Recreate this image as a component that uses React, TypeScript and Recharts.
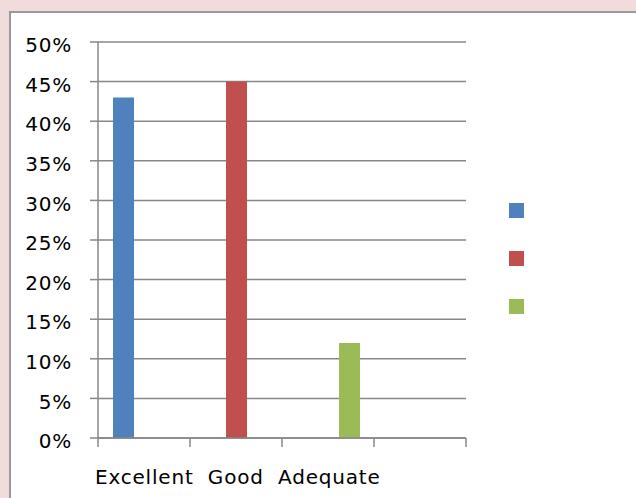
import { BarChart, Bar, XAxis, YAxis, CartesianGrid } from 'recharts';

const categories = ['c1', 'c2', 'c3', 'c4'];
const excellent = [43, null, null, null];
const good = [null, 45, null, null];
const adequate = [null, null, 12, null];
const yTicks = [0, 5, 10, 15, 20, 25, 30, 35, 40, 45, 50];
const axisLabel = 'Excellent  Good  Adequate';

const series = [
  { key: 'excellent', color: '#4f81bd' },
  { key: 'good', color: '#c0504d' },
  { key: 'adequate', color: '#9bbb59' }
];

const data = categories.map((name, i) => ({
  name,
  excellent: excellent[i],
  good: good[i],
  adequate: adequate[i]
}));

const FONT = '"DejaVu Sans", sans-serif';
const GRID = '#878787';

// Excel-style tick marks sit between categories, not at their centres
function BoundaryTick(props: any) {
  const { x, y, payload, index, visibleTicksCount } = props;
  const half = payload?.offset ?? 0;
  const last = index === visibleTicksCount - 1;
  return (
    <g>
      <line x1={x - half} x2={x - half} y1={y} y2={y + 9} stroke={GRID} strokeWidth={1.5} />
      {last && <line x1={x + half} x2={x + half} y1={y} y2={y + 9} stroke={GRID} strokeWidth={1.5} />}
    </g>
  );
}

export default function App() {
  return (
    <div
      style={{
        position: 'fixed',
        left: 0,
        top: 0,
        width: 636,
        height: 498,
        background: '#f2dcdb',
        overflow: 'hidden',
        fontFamily: FONT
      }}
    >
      <div
        style={{
          position: 'absolute',
          left: 9,
          top: 11,
          width: 640,
          height: 500,
          background: '#ffffff',
          border: '2px solid #9a9a9a'
        }}
      />
      <div style={{ position: 'absolute', left: 0, top: 0 }}>
        <BarChart
          width={636}
          height={498}
          data={data}
          margin={{ top: 42, right: 170, bottom: 30, left: 10 }}
          barGap={0}
          barSize={21}
        >
          <CartesianGrid vertical={false} stroke={GRID} strokeWidth={1.5} />
          <XAxis
            dataKey="name"
            height={30}
            stroke={GRID}
            strokeWidth={1.5}
            tickLine={false}
            tickSize={0}
            tickMargin={0}
            interval={0}
            tick={<BoundaryTick />}
          />
          <YAxis
            width={88}
            domain={[0, 50]}
            ticks={yTicks}
            tickFormatter={(v) => `${v}%`}
            tickSize={8}
            tickMargin={18}
            stroke={GRID}
            strokeWidth={1.5}
            tick={{ fill: '#000', fontSize: 20, fontFamily: FONT, dy: 3, letterSpacing: 0.8 }}
            interval={0}
          />
          {series.map((s) => (
            <Bar key={s.key} dataKey={s.key} fill={s.color} isAnimationActive={false} />
          ))}
        </BarChart>
      </div>
      {series.map((s, i) => (
        <div
          key={s.key}
          style={{
            position: 'absolute',
            left: 509,
            top: 203 + i * 48,
            width: 15,
            height: 15,
            background: s.color
          }}
        />
      ))}
      <div
        style={{
          position: 'absolute',
          left: 95,
          top: 465,
          fontSize: 20,
          letterSpacing: 0.8,
          color: '#000',
          whiteSpace: 'pre',
          fontFamily: FONT
        }}
      >
        {axisLabel}
      </div>
    </div>
  );
}
